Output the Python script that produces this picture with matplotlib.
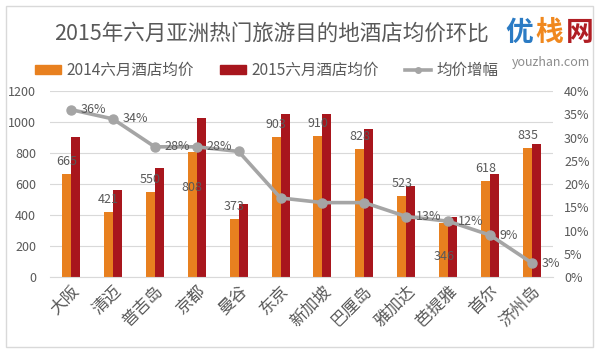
import numpy as np
import matplotlib
matplotlib.use("Agg")
import matplotlib.pyplot as plt
from matplotlib.lines import Line2D
from matplotlib.patches import Patch, Rectangle

plt.rcParams['font.family'] = ['Noto Sans CJK SC', 'DejaVu Sans']

# data
cities = ['大阪', '清迈', '普吉岛', '京都', '曼谷', '东京', '新加坡', '巴厘岛',
          '雅加达', '芭提雅', '首尔', '济州岛']
price_2014 = [665, 421, 550, 808, 373, 903, 910, 828, 523, 346, 618, 835]
price_2015 = [901, 561, 705, 1028, 471, 1054, 1054, 955, 587, 385, 667, 856]
growth = [0.36, 0.34, 0.28, 0.28, 0.27, 0.17, 0.16, 0.16, 0.13, 0.12, 0.09, 0.03]
growth_labels = ['36%', '34%', '28%', '28%', None, None, None, None,
                 '13%', '12%', '9%', '3%']

ORANGE = '#E8801F'
RED = '#A8161D'
GRAY = '#A5A5A5'
TEXT = '#595959'

# label offsets (points) for the 2014 labels, the rest sit above the bar
label_dy = {3: -26, 9: -24}

fig = plt.figure(figsize=(6.0, 3.51), dpi=100)
ax = fig.add_axes([0.0833, 0.2108, 0.8384, 0.5299])
ax2 = ax.twinx()

x = np.arange(len(cities))
w = 0.215
ax.bar(x - w / 2, price_2014, w, color=ORANGE, zorder=2)
ax.bar(x + w / 2, price_2015, w, color=RED, zorder=2)

for i, v in enumerate(price_2014):
    dy = label_dy.get(i, 9)
    ax.annotate(str(v), (x[i] - w / 2, v), xytext=(0, dy), textcoords='offset points',
                ha='center', va='center', fontsize=9, color=TEXT, zorder=5)

ax2.plot(x, growth, color=GRAY, lw=2.6, marker='o', ms=6.5, zorder=4)
for i, g in enumerate(growth):
    if growth_labels[i]:
        ax2.annotate(growth_labels[i], (x[i], g), xytext=(7, 0), textcoords='offset points',
                     ha='left', va='center', fontsize=9, color=TEXT, zorder=5)

ax.set_xlim(-0.5, len(cities) - 0.5)
ax.set_ylim(0, 1200)
ax.set_yticks(range(0, 1201, 200))
ax2.set_ylim(0, 0.4)
ax2.set_yticks(np.arange(0, 0.401, 0.05))
ax2.set_yticklabels([f'{int(round(t * 100))}%' for t in np.arange(0, 0.401, 0.05)])

ax.yaxis.grid(True, color='#D9D9D9', lw=0.8, zorder=0)
ax.set_axisbelow(True)
for a in (ax, ax2):
    for s in a.spines.values():
        s.set_visible(False)
    a.tick_params(length=0, labelsize=9, colors=TEXT)
ax.spines['bottom'].set_visible(True)
ax.spines['bottom'].set_color('#D9D9D9')

ax.set_xticks(x)
ax.set_xticklabels(cities, rotation=45, ha='right', va='top', rotation_mode='anchor',
                   fontsize=12, color=TEXT)
ax.tick_params(axis='x', pad=4)
ax.tick_params(axis='y', pad=10)
ax2.tick_params(axis='y', pad=8)

fig.text(0.453, 0.905, '2015年六月亚洲热门旅游目的地酒店均价环比', ha='center', va='center',
         fontsize=15.5, color=TEXT)

handles = [Patch(color=ORANGE), Patch(color=RED),
           Line2D([0], [0], color=GRAY, lw=2.6, marker='o', ms=4)]
fig.legend(handles, ['2014六月酒店均价', '2015六月酒店均价', '均价增幅'],
           loc='center left', bbox_to_anchor=(0.035, 0.80), ncol=3, frameon=False,
           fontsize=11.2, labelcolor=TEXT, handlelength=1.7, handleheight=0.5,
           handletextpad=0.3, columnspacing=1.7)

# logo
fig.text(0.843, 0.905, '优', fontsize=20, fontweight='bold', color='#2B7BC4', ha='left', va='center')
fig.text(0.893, 0.905, '栈', fontsize=20, fontweight='bold', color='#F0881E', ha='left', va='center')
fig.text(0.943, 0.905, '网', fontsize=20, fontweight='bold', color='#B01E24', ha='left', va='center')
fig.text(0.984, 0.823, 'youzhan.com', fontsize=9, color='#8C8C8C', ha='right', va='center')

fig.patches.append(Rectangle((0.01, 0.011), 0.978, 0.972, transform=fig.transFigure,
                             fill=False, edgecolor='#D9D9D9', lw=1))

fig.savefig('out.png', dpi=100)
